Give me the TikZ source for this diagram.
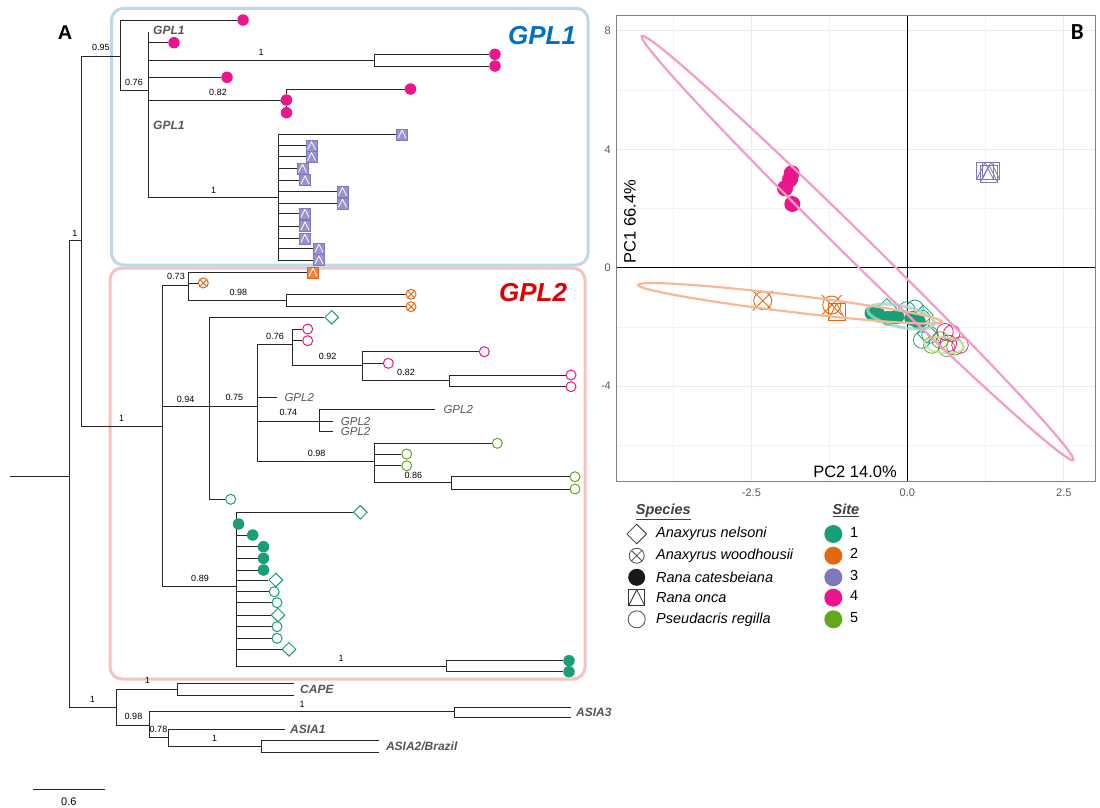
\documentclass[tikz,border=0pt]{standalone}
\usepackage{fontspec}
\setmainfont{Liberation Sans}
\newfontfamily\calibfont{Carlito}
\usetikzlibrary{shapes.geometric, shapes.misc, positioning, backgrounds}

\definecolor{siteone}{HTML}{1A9E77}
\definecolor{sitetwo}{HTML}{E2680F}
\definecolor{sitethree}{HTML}{7F78BF}
\definecolor{sitefour}{HTML}{EC168C}
\definecolor{sitefive}{HTML}{66A61E}
\definecolor{boxblue}{HTML}{BDD7EE}
\definecolor{boxpink}{HTML}{F5C2C2}
\definecolor{gplblue}{HTML}{0070C0}
\definecolor{gplred}{HTML}{E00000}
\definecolor{cladegray}{HTML}{555555}
\definecolor{ellpink}{HTML}{F39BC9}
\definecolor{ellorange}{HTML}{F7B894}
\definecolor{ellteal}{HTML}{9FD6C6}
\definecolor{ellgreen}{HTML}{C3E0A3}

\tikzset{
    branch/.style={line width=0.8pt, black!85},
    support/.style={font=\fontsize{9}{9}\selectfont, inner sep=0pt},
    cladelab/.style={font=\fontsize{11.5}{12}\selectfont\itshape, text=cladegray, anchor=west, inner sep=0pt},
    cladebold/.style={cladelab, font=\fontsize{12}{12}\selectfont\bfseries\itshape},
    tipdot/.style={circle, fill=#1, minimum size=11.5pt, inner sep=0pt},
    tipring/.style={circle, draw=#1, line width=1pt, minimum size=10pt, inner sep=0pt},
    tipdiam/.style={diamond, draw=#1, line width=1pt, minimum size=14pt, inner sep=0pt},
    tipcross/.style={circle, draw=#1, line width=1pt, minimum size=10pt, inner sep=0pt,
        path picture={\draw[#1, line width=0.8pt] (path picture bounding box.north west) -- (path picture bounding box.south east) (path picture bounding box.north east) -- (path picture bounding box.south west);}},
    tipsq/.style={rectangle, draw=#1, fill=#1!80, minimum size=11pt, inner sep=0pt,
        path picture={\draw[white, line width=0.8pt] ([shift={(1.5,-1.5)}]path picture bounding box.south west) -- ([shift={(0,1.5)}]path picture bounding box.north) -- ([shift={(-1.5,-1.5)}]path picture bounding box.south east);}},
    pcsq/.style={rectangle, draw=#1, line width=0.8pt, minimum size=17pt, inner sep=0pt,
        path picture={\draw[#1, line width=0.8pt] (path picture bounding box.south west) -- (path picture bounding box.north) -- (path picture bounding box.south east);}},
    gridminor/.style={line width=0.5pt, black!5},
    gridmajor/.style={line width=1pt, black!8},
    ticklab/.style={font=\fontsize{11}{11}\selectfont, text=black!65, inner sep=0pt},
    legtext/.style={font=\fontsize{14.5}{15}\selectfont\itshape, anchor=west, inner sep=0pt},
    leghead/.style={font=\fontsize{14.5}{15}\selectfont\bfseries\itshape, text=black!75, inner sep=0pt},
}

\begin{document}
\begin{tikzpicture}[x=1pt, y=-1pt]
    \useasboundingbox (0,0) rectangle (1100,807);

    \begin{scope}[on background layer]
        \draw[boxpink, line width=3pt, rounded corners=12pt] (110,268) rectangle (585,679);
        \draw[boxblue, line width=3pt, rounded corners=12pt] (111.5,8.3) rectangle (588,265);
    \end{scope}

    \node[font=\fontsize{20}{20}\selectfont\bfseries] (panA) at (65,33) {A};
    \node[font=\fontsize{26}{26}\selectfont\bfseries\itshape, text=gplblue] (gplone) at (542,36) {GPL1};
    \node[font=\fontsize{26}{26}\selectfont\bfseries\itshape, text=gplred] (gpltwo) at (533,293) {GPL2};

    \coordinate (root) at (10,476);
    \coordinate (n0) at (69,476);
    \coordinate (n1) at (81.5,240.7);
    \coordinate (g1) at (120,56);
    \coordinate (g1a) at (148,90);
    \coordinate (g1top) at (148,31.7);
    \coordinate (g1b) at (374,60);
    \coordinate (g1d) at (278,197.7);

    \node[tipdot=sitefour] (p1) at (243,20) {};
    \node[tipdot=sitefour] (p2) at (174,42.7) {};
    \node[tipdot=sitefour] (p3) at (495,54.3) {};
    \node[tipdot=sitefour] (p4) at (495,66) {};
    \node[tipdot=sitefour] (p5) at (227,77.3) {};
    \node[tipdot=sitefour] (p6) at (286.5,100) {};
    \node[tipdot=sitefour] (p7) at (410.5,89) {};
    \node[tipdot=sitefour] (p8) at (286.5,112.7) {};
    \node[tipsq=sitethree] (q1) at (402,134.3) {};
    \node[tipsq=sitethree] (q2) at (311.5,145.7) {};
    \node[tipsq=sitethree] (q3) at (311.5,156.7) {};
    \node[tipsq=sitethree] (q4) at (302.5,168.3) {};
    \node[tipsq=sitethree] (q5) at (305,180) {};
    \node[tipsq=sitethree] (q6) at (342.5,191.5) {};
    \node[tipsq=sitethree] (q7) at (342.5,203.3) {};
    \node[tipsq=sitethree] (q8) at (305,213.3) {};
    \node[tipsq=sitethree] (q9) at (305,226) {};
    \node[tipsq=sitethree] (q10) at (305,238.3) {};
    \node[tipsq=sitethree] (q11) at (319,248.3) {};
    \node[tipsq=sitethree] (q12) at (319,260) {};

    \node[cladebold] (lg1a) at (153,30) {GPL1};
    \node[cladebold] (lg1b) at (153,125) {GPL1};

    \node[support] (s1) at (75,233) {1};
    \node[support] (s2) at (100.8,47.7) {0.95};
    \node[support] (s3) at (134,82) {0.76};
    \node[support] (s4) at (261,52) {1};
    \node[support] (s5) at (218,92) {0.82};
    \node[support] (s6) at (213.5,190) {1};

    \coordinate (g2) at (162,426);
    \coordinate (g2a) at (188.3,285);
    \coordinate (g2b) at (286.7,300.7);
    \coordinate (g2c) at (209.3,406.7);
    \coordinate (g2d) at (257.7,406.7);
    \coordinate (g2e) at (292.3,344.3);
    \coordinate (g2f) at (362.3,365);
    \coordinate (g2g) at (449.3,380);
    \coordinate (g2h) at (319,421);
    \coordinate (g2i) at (374.3,461.7);
    \coordinate (g2j) at (451.7,482.7);
    \coordinate (g2k) at (236,586.7);
    \coordinate (g2l) at (446,666);

    \node[tipsq=sitetwo] (r1) at (313,272.3) {};
    \node[tipcross=sitetwo] (x1) at (203.3,283) {};
    \node[tipcross=sitetwo] (x2) at (411,294.3) {};
    \node[tipcross=sitetwo] (x3) at (411,306.7) {};
    \node[tipdiam=siteone] (a1) at (331.7,317.3) {};
    \node[tipring=sitefour] (c1) at (307.7,329) {};
    \node[tipring=sitefour] (c2) at (307.7,340.7) {};
    \node[tipring=sitefour] (c3) at (484.3,351.7) {};
    \node[tipring=sitefour] (c4) at (388.3,363.3) {};
    \node[tipring=sitefour] (c5) at (571,375) {};
    \node[tipring=sitefour] (c6) at (571,386.7) {};
    \coordinate (e1) at (276.7,397.7);
    \coordinate (e2) at (435,409.7);
    \coordinate (e3) at (333.3,421.7);
    \coordinate (e4) at (333.3,431.7);
    \node[tipring=sitefive] (v1) at (497.3,443.3) {};
    \node[tipring=sitefive] (v2) at (406.7,454) {};
    \node[tipring=sitefive] (v3) at (406.7,465.7) {};
    \node[tipring=sitefive] (v4) at (575,476.7) {};
    \node[tipring=sitefive] (v5) at (575,489) {};
    \node[tipring=siteone] (c7) at (230.7,499.3) {};
    \node[tipdiam=siteone] (a2) at (360.4,512.3) {};
    \node[tipdot=siteone] (t1) at (238.5,524) {};
    \node[tipdot=siteone] (t2) at (252.7,535) {};
    \node[tipdot=siteone] (t3) at (263.5,546.7) {};
    \node[tipdot=siteone] (t4) at (263.5,558.3) {};
    \node[tipdot=siteone] (t5) at (263.5,570) {};
    \node[tipdiam=siteone] (a3) at (275.8,580) {};
    \node[tipring=siteone] (c8) at (274.2,591.7) {};
    \node[tipring=siteone] (c9) at (277,602.7) {};
    \node[tipdiam=siteone] (a4) at (278,615) {};
    \node[tipring=siteone] (c10) at (277,626.7) {};
    \node[tipring=siteone] (c11) at (277,638.3) {};
    \node[tipdiam=siteone] (a5) at (289,649.3) {};
    \node[tipdot=siteone] (t6) at (569,660.7) {};
    \node[tipdot=siteone] (t7) at (569,671.7) {};

    \node[cladelab, right=7.6pt of e1] (lg2a) {GPL2};
    \node[cladelab, right=8.3pt of e2] (lg2b) {GPL2};
    \node[cladelab, right=7.4pt of e3] (lg2c) {GPL2};
    \node[cladelab, right=7.4pt of e4] (lg2d) {GPL2};

    \node[support] (s7) at (176,276.7) {0.73};
    \node[support] (s8) at (238.3,292.3) {0.98};
    \node[support] (s9) at (121.7,418) {1};
    \node[support] (s10) at (185.7,399.3) {0.94};
    \node[support] (s11) at (234.3,397.7) {0.75};
    \node[support] (s12) at (275,336.7) {0.76};
    \node[support] (s13) at (327.7,356.7) {0.92};
    \node[support] (s14) at (406,372.7) {0.82};
    \node[support] (s15) at (288.3,412.3) {0.74};
    \node[support] (s16) at (316.7,453.3) {0.98};
    \node[support] (s17) at (413.3,475) {0.86};
    \node[support] (s18) at (200,578.3) {0.89};
    \node[support] (s19) at (341,658.3) {1};

    \coordinate (o1) at (116,707.3);
    \coordinate (o2) at (177,689.3);
    \coordinate (o3) at (149,725);
    \coordinate (o4) at (454.6,711.7);
    \coordinate (o5) at (168,737.7);
    \coordinate (o6) at (261.5,746.7);
    \coordinate (k1) at (294.2,683.3);
    \coordinate (k2) at (294.2,695);
    \coordinate (k3) at (571,707.3);
    \coordinate (k4) at (571,717.7);
    \coordinate (k5) at (284.6,729);
    \coordinate (k6) at (378.8,740.7);
    \coordinate (k7) at (378.8,752.3);

    \node[cladebold] (lcape) at (300,689.3) {CAPE};
    \node[cladebold] (lasia3) at (576,712.5) {ASIA3};
    \node[cladebold] (lasia1) at (290,729) {ASIA1};
    \node[cladebold] (lasia2) at (385.8,746.5) {ASIA2/Brazil};

    \node[support] (s20) at (92.3,699) {1};
    \node[support] (s21) at (147.3,680.7) {1};
    \node[support] (s22) at (133.5,716.7) {0.98};
    \node[support] (s23) at (302,704) {1};
    \node[support] (s24) at (158.5,729.3) {0.78};
    \node[support] (s25) at (214.6,738.3) {1};

    \coordinate (sb1) at (32.7,789.3);
    \coordinate (sb2) at (104.6,789.3);
    \node[font=\fontsize{11}{11}\selectfont] (sbl) at (68.8,802) {0.6};

    \begin{scope}[on background layer]
        \draw[branch] (root) -- (n0);
        \draw[branch] (n0) |- (n1);
        \draw[branch] (n0) |- (o1);
        \draw[branch] (n1) |- (g1);
        \draw[branch] (n1) |- (g2);
        \draw[branch] (g1) |- (p1);
        \draw[branch] (g1) |- (g1a);
        \draw[branch] (g1a) |- (g1top);
        \draw[branch] (g1a) |- (p2);
        \draw[branch] (g1a) |- (g1b);
        \draw[branch] (g1a) |- (p5);
        \draw[branch] (g1a) |- (p6);
        \draw[branch] (g1a) |- (g1d);
        \draw[branch] (g1b) |- (p3);
        \draw[branch] (g1b) |- (p4);
        \draw[branch] (p6) |- (p7);
        \draw[branch] (p6) -- (p8);
        \draw[branch] (g1d) |- (q1);
        \draw[branch] (g1d) |- (q2);
        \draw[branch] (g1d) |- (q3);
        \draw[branch] (g1d) |- (q4);
        \draw[branch] (g1d) |- (q5);
        \draw[branch] (g1d) |- (q6);
        \draw[branch] (g1d) |- (q7);
        \draw[branch] (g1d) |- (q8);
        \draw[branch] (g1d) |- (q9);
        \draw[branch] (g1d) |- (q10);
        \draw[branch] (g1d) |- (q11);
        \draw[branch] (g1d) |- (q12);

        \draw[branch] (g2) |- (g2a);
        \draw[branch] (g2) |- (g2c);
        \draw[branch] (g2) |- (g2k);
        \draw[branch] (g2a) |- (r1);
        \draw[branch] (g2a) |- (x1);
        \draw[branch] (g2a) |- (g2b);
        \draw[branch] (g2b) |- (x2);
        \draw[branch] (g2b) |- (x3);
        \draw[branch] (g2c) |- (a1);
        \draw[branch] (g2c) -- (g2d);
        \draw[branch] (g2c) |- (c7);
        \draw[branch] (g2d) |- (g2e);
        \draw[branch] (g2d) |- (e1);
        \draw[branch] (g2d) |- (g2h);
        \draw[branch] (g2d) |- (g2i);
        \draw[branch] (g2e) |- (c1);
        \draw[branch] (g2e) |- (c2);
        \draw[branch] (g2e) |- (g2f);
        \draw[branch] (g2f) |- (c3);
        \draw[branch] (g2f) |- (c4);
        \draw[branch] (g2f) |- (g2g);
        \draw[branch] (g2g) |- (c5);
        \draw[branch] (g2g) |- (c6);
        \draw[branch] (g2h) |- (e2);
        \draw[branch] (g2h) |- (e3);
        \draw[branch] (g2h) |- (e4);
        \draw[branch] (g2i) |- (v1);
        \draw[branch] (g2i) |- (v2);
        \draw[branch] (g2i) |- (v3);
        \draw[branch] (g2i) |- (g2j);
        \draw[branch] (g2j) |- (v4);
        \draw[branch] (g2j) |- (v5);
        \draw[branch] (g2k) |- (a2);
        \draw[branch] (g2k) |- (t1);
        \draw[branch] (g2k) |- (t2);
        \draw[branch] (g2k) |- (t3);
        \draw[branch] (g2k) |- (t4);
        \draw[branch] (g2k) |- (t5);
        \draw[branch] (g2k) |- (a3);
        \draw[branch] (g2k) |- (c8);
        \draw[branch] (g2k) |- (c9);
        \draw[branch] (g2k) |- (a4);
        \draw[branch] (g2k) |- (c10);
        \draw[branch] (g2k) |- (c11);
        \draw[branch] (g2k) |- (a5);
        \draw[branch] (g2k) |- (g2l);
        \draw[branch] (g2l) |- (t6);
        \draw[branch] (g2l) |- (t7);

        \draw[branch] (o1) |- (o2);
        \draw[branch] (o1) |- (o3);
        \draw[branch] (o2) |- (k1);
        \draw[branch] (o2) |- (k2);
        \draw[branch] (o3) |- (o4);
        \draw[branch] (o3) |- (o5);
        \draw[branch] (o4) |- (k3);
        \draw[branch] (o4) |- (k4);
        \draw[branch] (o5) |- (k5);
        \draw[branch] (o5) |- (o6);
        \draw[branch] (o6) |- (k6);
        \draw[branch] (o6) |- (k7);
        \draw[branch] (sb1) -- (sb2);
    \end{scope}

    % panel B
    \draw[gridminor] (672.9,15) -- (672.9,481);
    \draw[gridminor] (829.2,15) -- (829.2,481);
    \draw[gridminor] (985.4,15) -- (985.4,481);
    \draw[gridminor] (616.7,90) -- (1095.7,90);
    \draw[gridminor] (616.7,208.5) -- (1095.7,208.5);
    \draw[gridminor] (616.7,327) -- (1095.7,327);
    \draw[gridminor] (616.7,445.5) -- (1095.7,445.5);
    \draw[gridmajor] (751.4,15) -- (751.4,481);
    \draw[gridmajor] (1063.8,15) -- (1063.8,481);
    \draw[gridmajor] (616.7,30.7) -- (1095.7,30.7);
    \draw[gridmajor] (616.7,149.3) -- (1095.7,149.3);
    \draw[gridmajor] (616.7,386) -- (1095.7,386);
    \draw[black, line width=1.2pt] (907.3,15) -- (907.3,481);
    \draw[black, line width=1.2pt] (616.7,267.7) -- (1095.7,267.7);
    \draw[black!50, line width=0.8pt] (616.7,15) rectangle (1095.7,481);

    \node[ticklab, anchor=east] (y8) at (611,30.7) {8};
    \node[ticklab, anchor=east] (y4) at (611,149.3) {4};
    \node[ticklab, anchor=east] (y0) at (611,267.7) {0};
    \node[ticklab, anchor=east] (ym4) at (611,386) {-4};
    \node[ticklab] (xm25) at (751.4,493) {-2.5};
    \node[ticklab] (x0) at (907.3,493) {0.0};
    \node[ticklab] (x25) at (1063.8,493) {2.5};
    \node[font=\fontsize{16.5}{17}\selectfont, rotate=90, inner sep=0pt] (pcone) at (630,221.7) {PC1 66.4\%};
    \node[font=\fontsize{16.5}{17}\selectfont, inner sep=0pt] (pctwo) at (855,471.7) {PC2 14.0\%};
    \node[font=\calibfont\fontsize{23}{23}\selectfont\bfseries] (panB) at (1077.3,32.3) {B};

    \node[tipdot=sitefour, minimum size=16pt] (m1) at (791.7,173.3) {};
    \node[tipdot=sitefour, minimum size=16pt] (m2) at (790,179.3) {};
    \node[tipdot=sitefour, minimum size=16pt] (m3) at (785,188.3) {};
    \node[tipdot=sitefour, minimum size=16pt] (m4) at (792.3,204) {};
    \node[pcsq=sitethree] (m5) at (985,171) {};
    \node[pcsq=sitethree] (m6) at (989,173.5) {};
    \node[pcsq=sitethree] (m7) at (991,170.5) {};
    \node[tipring=sitetwo, line width=0.9pt, minimum size=18pt] (m8) at (762.7,300.7) {};
    \node[cross out, draw=sitetwo, line width=0.9pt, minimum size=19pt, inner sep=0pt] (m9) at (762.7,300.7) {};
    \node[tipring=sitetwo, line width=0.9pt, minimum size=18pt] (m10) at (831.7,305) {};
    \node[cross out, draw=sitetwo, line width=0.9pt, minimum size=19pt, inner sep=0pt] (m11) at (831.7,305) {};
    \node[pcsq=sitetwo] (m12) at (836.7,311.7) {};
    \node[tipdot=siteone, minimum size=15pt] (m13) at (872,313) {};
    \node[tipdot=siteone, minimum size=15pt] (m14) at (878.3,315) {};
    \node[tipdot=siteone, minimum size=15pt] (m15) at (888.3,318.3) {};
    \node[tipdot=siteone, minimum size=15pt] (m16) at (896.7,316.7) {};
    \node[tipdot=siteone, minimum size=15pt] (m17) at (911.7,318.3) {};
    \node[tipdot=siteone, minimum size=15pt] (m18) at (918.3,321.7) {};
    \node[tipdiam=siteone, line width=0.8pt, minimum size=20pt] (m19) at (886.7,308.3) {};
    \node[tipdiam=siteone, line width=0.8pt, minimum size=20pt] (m20) at (923.3,315) {};
    \node[tipdiam=siteone, line width=0.8pt, minimum size=20pt] (m21) at (926.7,333.3) {};
    \node[tipring=siteone, line width=0.8pt, minimum size=16.5pt] (m22) at (906.7,310) {};
    \node[tipring=siteone, line width=0.8pt, minimum size=16.5pt] (m23) at (915,308.3) {};
    \node[tipring=siteone, line width=0.8pt, minimum size=16.5pt] (m24) at (921.7,318.3) {};
    \node[tipring=siteone, line width=0.8pt, minimum size=16.5pt] (m25) at (921.7,340) {};
    \node[tipring=siteone, line width=0.8pt, minimum size=16.5pt] (m26) at (930,335) {};
    \node[tipring=sitefive, line width=0.8pt, minimum size=16.5pt] (m27) at (931.7,345) {};
    \node[tipring=sitefive, line width=0.8pt, minimum size=16.5pt] (m28) at (940,340) {};
    \node[tipring=sitefive, line width=0.8pt, minimum size=16.5pt] (m29) at (946.7,348.3) {};
    \node[tipring=sitefive, line width=0.8pt, minimum size=16.5pt] (m30) at (955,346.7) {};
    \node[tipring=sitefour, line width=0.8pt, minimum size=16.5pt] (m31) at (945,331.7) {};
    \node[tipring=sitefour, line width=0.8pt, minimum size=16.5pt] (m32) at (951.7,333.3) {};
    \node[tipring=sitefour, line width=0.8pt, minimum size=16.5pt] (m33) at (948.3,343.3) {};
    \node[tipring=sitefour, line width=0.8pt, minimum size=16.5pt] (m34) at (960,345) {};

    \draw[ellteal, line width=3pt, opacity=0.8, rotate around={-12:(901,316.5)}] (901,316.5) ellipse [x radius=34pt, y radius=10.5pt];
    \draw[ellgreen, line width=2pt, opacity=0.8, rotate around={-5:(944,345)}] (944,345) ellipse [x radius=20pt, y radius=8pt];
    \draw[ellorange, line width=2.2pt, rotate around={-6.9:(790,303.3)}] (790,303.3) ellipse [x radius=153pt, y radius=8.5pt];
    \draw[ellpink, line width=2.2pt, rotate around={-44.5:(857.5,248)}] (857.5,248) ellipse [x radius=302.5pt, y radius=13pt];

    % legend
    \node[leghead] (hspecies) at (663.3,511.7) {\underline{Species}};
    \node[leghead] (hsite) at (846,510) {\underline{Site}};
    \node[tipdiam=black!80, line width=0.8pt, minimum size=20pt] (ls1) at (636.7,534) {};
    \node[tipcross=black!70, line width=0.8pt, minimum size=15pt] (ls2) at (636.7,555.7) {};
    \node[tipdot=black!90, minimum size=17pt] (ls3) at (636.7,577.3) {};
    \node[pcsq=black!80, minimum size=16pt] (ls4) at (636.7,597.7) {};
    \node[tipring=black!70, line width=0.8pt, minimum size=17pt] (ls5) at (636.7,619.3) {};
    \node[legtext] (lt1) at (656,534) {Anaxyrus nelsoni};
    \node[legtext] (lt2) at (656,555.7) {Anaxyrus woodhousii};
    \node[legtext] (lt3) at (656,577.3) {Rana catesbeiana};
    \node[legtext] (lt4) at (656,597.7) {Rana onca};
    \node[legtext] (lt5) at (656,619.3) {Pseudacris regilla};
    \node[tipdot=siteone, minimum size=18pt] (lc1) at (833.3,534) {};
    \node[tipdot=sitetwo, minimum size=18pt] (lc2) at (833.3,555.7) {};
    \node[tipdot=sitethree, minimum size=18pt] (lc3) at (833.3,577.3) {};
    \node[tipdot=sitefour, minimum size=18pt] (lc4) at (833.3,597.7) {};
    \node[tipdot=sitefive, minimum size=18pt] (lc5) at (833.3,619.3) {};
    \node[legtext, font=\fontsize{14.5}{15}\selectfont] (ln1) at (850,532) {1};
    \node[legtext, font=\fontsize{14.5}{15}\selectfont] (ln2) at (850,553.7) {2};
    \node[legtext, font=\fontsize{14.5}{15}\selectfont] (ln3) at (850,575.3) {3};
    \node[legtext, font=\fontsize{14.5}{15}\selectfont] (ln4) at (850,595.7) {4};
    \node[legtext, font=\fontsize{14.5}{15}\selectfont] (ln5) at (850,617.3) {5};
\end{tikzpicture}
\end{document}
